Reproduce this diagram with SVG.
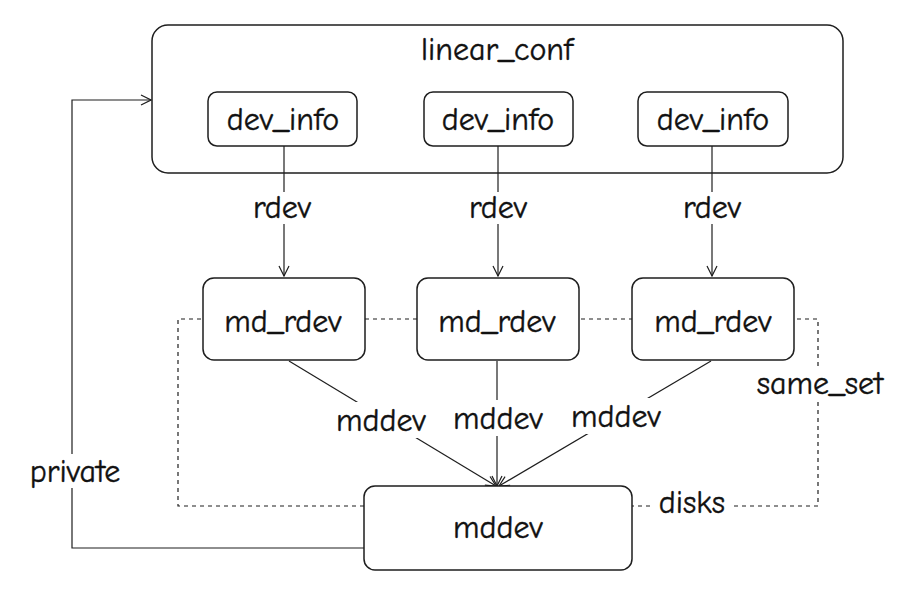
<svg xmlns="http://www.w3.org/2000/svg" width="917" height="595" viewBox="0 0 917 595">
<defs>
<style>
.box{fill:#fff;stroke:#1e1e1e;stroke-width:1.5}
.outer{fill:none;stroke:#1e1e1e;stroke-width:1.5}
.t{font-family:"Comic Neue","Comic Sans MS","Liberation Sans",sans-serif;font-size:32px;fill:#111;stroke:#111;stroke-width:0.4;text-anchor:middle;dominant-baseline:central}
.ln{fill:none;stroke:#1e1e1e;stroke-width:1.2}
.dash{fill:none;stroke:#1e1e1e;stroke-width:1.2;stroke-dasharray:4 4}
.bg{fill:#fff}
</style>
<marker id="arr" viewBox="0 0 12 12" refX="11" refY="6" markerWidth="12" markerHeight="12" markerUnits="userSpaceOnUse" orient="auto">
<path d="M1,1 L11,6 L1,11" fill="none" stroke="#1e1e1e" stroke-width="1.2"/>
</marker>
</defs>
<rect width="917" height="595" fill="#fff"/>

<g id="connectors">
<path class="dash" d="M364,506 H178 V319 H818 V506 H632"/>
<rect class="bg" x="752" y="366" width="136" height="34"/>
<text class="t" x="820" y="383">same_set</text>
<rect class="bg" x="654" y="487" width="76" height="32"/>
<text class="t" x="692" y="502">disks</text>
<path class="ln" d="M284,146 V276" marker-end="url(#arr)"/>
<path class="ln" d="M498,146 V276" marker-end="url(#arr)"/>
<path class="ln" d="M712,146 V276" marker-end="url(#arr)"/>
<rect class="bg" x="246" y="192" width="72" height="32"/>
<text class="t" x="282" y="207">rdev</text>
<rect class="bg" x="462" y="192" width="72" height="32"/>
<text class="t" x="498" y="207">rdev</text>
<rect class="bg" x="676" y="192" width="72" height="32"/>
<text class="t" x="712" y="207">rdev</text>
<path class="ln" d="M289,361 L496,486" marker-end="url(#arr)"/>
<path class="ln" d="M497,361 V486" marker-end="url(#arr)"/>
<path class="ln" d="M711,361 L499,486" marker-end="url(#arr)"/>
<rect class="bg" x="334" y="402" width="94" height="36"/>
<text class="t" x="381" y="420">mddev</text>
<rect class="bg" x="451" y="400" width="94" height="36"/>
<text class="t" x="498" y="418">mddev</text>
<rect class="bg" x="569" y="398" width="94" height="36"/>
<text class="t" x="616" y="416">mddev</text>
<path class="ln" d="M364,548 H72 V100 H151" marker-end="url(#arr)"/>
<rect class="bg" x="24" y="454" width="104" height="34"/>
<text class="t" x="75" y="471">private</text>
</g>

<g id="linear_conf">
<rect class="outer" x="152" y="25" width="691" height="148" rx="16"/>
<text class="t" x="497" y="49">linear_conf</text>
</g>
<g id="dev_info_1">
<rect class="box" x="208" y="92" width="149" height="54" rx="9"/>
<text class="t" x="283" y="119">dev_info</text>
</g>
<g id="dev_info_2">
<rect class="box" x="424" y="92" width="149" height="54" rx="9"/>
<text class="t" x="498" y="119">dev_info</text>
</g>
<g id="dev_info_3">
<rect class="box" x="638" y="92" width="150" height="54" rx="9"/>
<text class="t" x="713" y="119">dev_info</text>
</g>
<g id="md_rdev_1">
<rect class="box" x="203" y="278" width="162" height="82" rx="11"/>
<text class="t" x="283" y="321">md_rdev</text>
</g>
<g id="md_rdev_2">
<rect class="box" x="417" y="278" width="162" height="82" rx="11"/>
<text class="t" x="497" y="321">md_rdev</text>
</g>
<g id="md_rdev_3">
<rect class="box" x="632" y="278" width="162" height="82" rx="11"/>
<text class="t" x="713" y="321">md_rdev</text>
</g>
<g id="mddev">
<rect class="box" x="364" y="486" width="268" height="84" rx="11"/>
<text class="t" x="498" y="527">mddev</text>
</g>
</svg>
